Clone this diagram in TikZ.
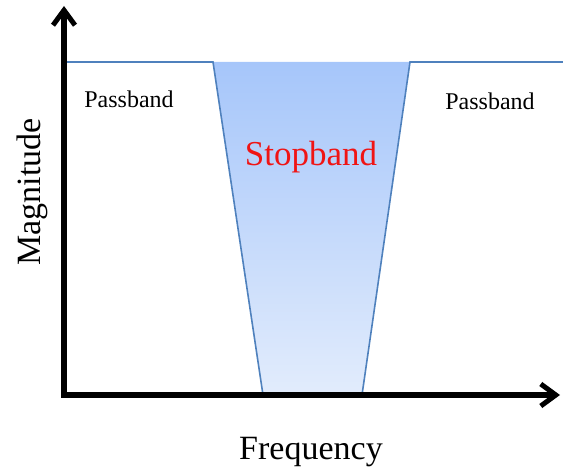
\documentclass[tikz,border=0pt]{standalone}
\usepackage{fontspec}
\setmainfont{Liberation Serif}
\usetikzlibrary{arrows.meta}
\definecolor{bandline}{RGB}{79,129,189}
\definecolor{bandtop}{RGB}{166,198,250}
\definecolor{bandbot}{RGB}{226,236,252}
\definecolor{stoptext}{RGB}{240,20,20}
\tikzset{
  axis/.style={line width=5.5pt, -{Straight Barb[length=15pt,width=22pt,line width=5pt]}},
  response/.style={draw=bandline, line width=1.6pt, line join=miter},
  label/.style={inner sep=0pt, text=black}
}
\begin{document}
\begin{tikzpicture}[x=1pt,y=-1pt]
\useasboundingbox (0,0) rectangle (563,473);
% axes
\coordinate (origin) at (64,395);
\coordinate (ytop) at (64,6);
\coordinate (xend) at (560,395);
% filter response corners
\coordinate (l0) at (64,62);
\coordinate (l1) at (213,62);
\coordinate (b1) at (263,395);
\coordinate (b2) at (362,395);
\coordinate (r1) at (410,62);
\coordinate (r0) at (563,62);
% shaded stopband
\shade[top color=bandtop, bottom color=bandbot] (l1) -- (b1) -- (b2) -- (r1) -- cycle;
\draw[response] (l0) -- (l1) -- (b1) -- (b2) -- (r1) -- (r0);
\draw[axis] ([yshift=2.75pt]origin) -- (ytop);
\draw[axis] ([xshift=-2.75pt]origin) -- (xend);
% labels
\node[label, font=\fontsize{24}{24}\selectfont] (pl) at (129,99) {Passband};
\node[label, font=\fontsize{24}{24}\selectfont] (pr) at (490,101) {Passband};
\node[label, text=stoptext, font=\fontsize{35}{35}\selectfont] (sb) at (311,157) {Stopband};
\node[label, rotate=90, font=\fontsize{34}{34}\selectfont] (mag) at (32,192) {Magnitude};
\node[label, font=\fontsize{34}{34}\selectfont] (freq) at (311,452) {Frequency};
\end{tikzpicture}
\end{document}
